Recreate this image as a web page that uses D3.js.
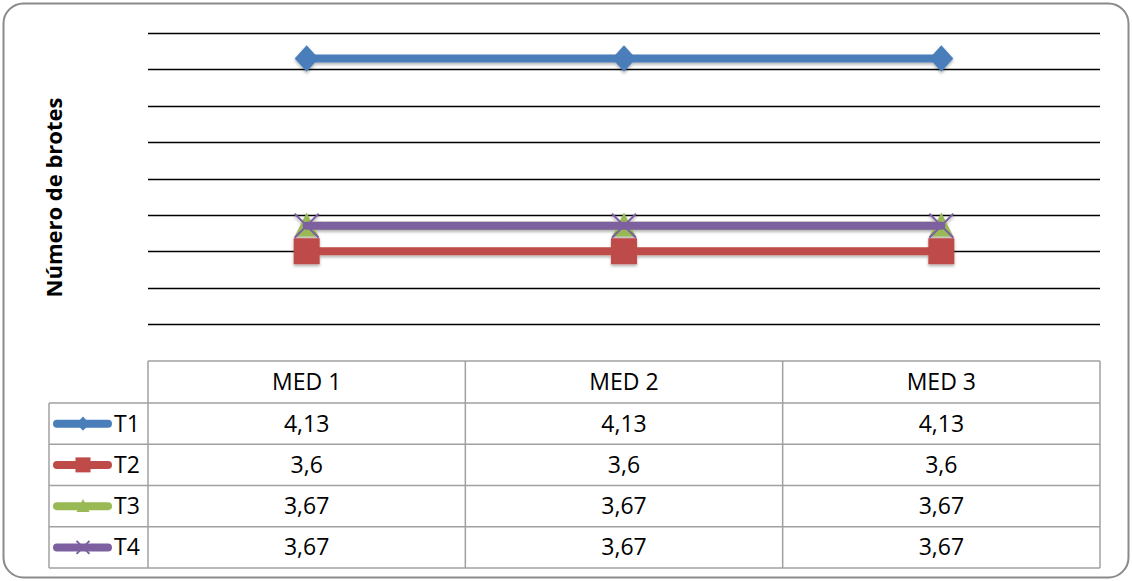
<!DOCTYPE html>
<html>
<head>
<meta charset="utf-8">
<script src="https://cdn.jsdelivr.net/npm/d3@7"></script>
<style>
  html, body { margin: 0; padding: 0; background: #fff; }
  svg { display: block; }
</style>
</head>
<body>
<svg id="chart" width="1132" height="581"></svg>
<script>
// Sample points (columns of the data table)
const categories = ["MED 1", "MED 2", "MED 3"];

// Series names and values per category
const seriesNames = ["T1", "T2", "T3", "T4"];
const t1Values = [4.13, 4.13, 4.13];
const t2Values = [3.6, 3.6, 3.6];
const t3Values = [3.67, 3.67, 3.67];
const t4Values = [3.67, 3.67, 3.67];

// Value axis gridlines (axis labels are hidden)
const gridTicks = [3.4, 3.5, 3.6, 3.7, 3.8, 3.9, 4.0, 4.1, 4.2];

const yTitle = "Número de brotes";

const seriesColors = ["#4a7ebb", "#be4b48", "#98b954", "#7d60a0"];
const seriesMarkers = ["diamond", "square", "triangle", "cross"];

const series = seriesNames.map((name, i) => ({
  name,
  values: [t1Values, t2Values, t3Values, t4Values][i],
  color: seriesColors[i],
  marker: seriesMarkers[i]
}));

const svg = d3.select("#chart");
const W = 1132, H = 581;

const plot = { left: 148, right: 1100, top: 33, bottom: 324 };
const table = { left: 148, right: 1100, legendLeft: 49, top: 361, headerBottom: 403, bottom: 568 };

const x = d3.scaleBand().domain(categories).range([plot.left, plot.right]);
const y = d3.scaleLinear().domain([3.4, 4.2]).range([plot.bottom, plot.top]);

const defs = svg.append("defs");
const shadow = defs.append("filter").attr("id", "shadow")
  .attr("x", "-20%").attr("y", "-20%").attr("width", "140%").attr("height", "160%");
shadow.append("feDropShadow")
  .attr("dx", 0).attr("dy", 2).attr("stdDeviation", 1.6)
  .attr("flood-color", "#000").attr("flood-opacity", 0.3);

// Outer chart frame
svg.append("rect")
  .attr("x", 3.5).attr("y", 3.5)
  .attr("width", W - 7).attr("height", H - 7)
  .attr("rx", 20).attr("ry", 20)
  .attr("fill", "#fff").attr("stroke", "#8a8a8a").attr("stroke-width", 2);

// Horizontal gridlines
svg.append("g").selectAll("line").data(gridTicks).join("line")
  .attr("x1", plot.left).attr("x2", plot.right)
  .attr("y1", d => Math.round(y(d)) + 0.5).attr("y2", d => Math.round(y(d)) + 0.5)
  .attr("stroke", "#000").attr("stroke-width", 1.6);

// Y axis title
svg.append("text")
  .attr("transform", `translate(62,${(plot.top + plot.bottom) / 2 + 19}) rotate(-90)`)
  .attr("text-anchor", "middle")
  .attr("font-family", "'Open Sans', sans-serif")
  .attr("font-weight", "bold")
  .attr("font-size", 22)
  .attr("fill", "#000")
  .text(yTitle);

// Marker drawing helper
function drawMarker(g, type, cx, cy, s, color) {
  if (type === "diamond") {
    g.append("path")
      .attr("d", `M${cx},${cy - s * 0.55} L${cx + s * 0.5},${cy} L${cx},${cy + s * 0.55} L${cx - s * 0.5},${cy} Z`)
      .attr("fill", color);
  } else if (type === "square") {
    g.append("rect")
      .attr("x", cx - s / 2).attr("y", cy - s / 2)
      .attr("width", s).attr("height", s)
      .attr("fill", color);
  } else if (type === "triangle") {
    g.append("path")
      .attr("d", `M${cx},${cy - s * 0.55} L${cx + s * 0.5},${cy + s * 0.45} L${cx - s * 0.5},${cy + s * 0.45} Z`)
      .attr("fill", color);
  } else if (type === "cross") {
    g.append("path")
      .attr("d", `M${cx - s / 2},${cy - s / 2} L${cx + s / 2},${cy + s / 2} M${cx + s / 2},${cy - s / 2} L${cx - s / 2},${cy + s / 2}`)
      .attr("stroke", color).attr("stroke-width", 2).attr("fill", "none");
  }
}

const line = d3.line()
  .x((d, i) => x(categories[i]) + x.bandwidth() / 2)
  .y(d => y(d));

// Series lines and markers
const seriesG = svg.append("g").attr("filter", "url(#shadow)");
const markerSize = { diamond: 24, square: 26, triangle: 24, cross: 24 };
series.forEach(s => {
  const g = seriesG.append("g");
  g.append("path")
    .attr("d", line(s.values))
    .attr("fill", "none")
    .attr("stroke", s.color)
    .attr("stroke-width", 8)
    .attr("stroke-linecap", "round");
  s.values.forEach((v, i) => {
    drawMarker(g, s.marker, x(categories[i]) + x.bandwidth() / 2, y(v), markerSize[s.marker], s.color);
  });
});

// Data table
const tableG = svg.append("g");
const rowH = (table.bottom - table.headerBottom) / series.length;
const gridColor = "#a0a0a0";
const fontFamily = "'Open Sans', sans-serif";
const tableFont = 23;

// Header row
tableG.append("line")
  .attr("x1", table.left).attr("x2", table.right)
  .attr("y1", table.top).attr("y2", table.top)
  .attr("stroke", gridColor).attr("stroke-width", 1.5);
// Horizontal row separators
const rowLines = d3.range(series.length + 1).map(i => table.headerBottom + i * rowH);
tableG.selectAll("line.row").data(rowLines).join("line")
  .attr("class", "row")
  .attr("x1", table.legendLeft).attr("x2", table.right)
  .attr("y1", d => d).attr("y2", d => d)
  .attr("stroke", gridColor).attr("stroke-width", 1.5);
// Column separators
const colEdges = [plot.left].concat(categories.map(c => x(c) + x.bandwidth()));
tableG.selectAll("line.col").data(colEdges).join("line")
  .attr("class", "col")
  .attr("x1", d => d).attr("x2", d => d)
  .attr("y1", table.top).attr("y2", table.bottom)
  .attr("stroke", gridColor).attr("stroke-width", 1.5);
tableG.append("line")
  .attr("x1", table.legendLeft).attr("x2", table.legendLeft)
  .attr("y1", table.headerBottom).attr("y2", table.bottom)
  .attr("stroke", gridColor).attr("stroke-width", 1.5);

// Header labels
tableG.selectAll("text.head").data(categories).join("text")
  .attr("class", "head")
  .attr("x", d => x(d) + x.bandwidth() / 2)
  .attr("y", (table.top + table.headerBottom) / 2)
  .attr("dy", "0.35em")
  .attr("text-anchor", "middle")
  .attr("font-family", fontFamily).attr("font-size", tableFont).attr("fill", "#000")
  .text(d => d);

const fmt = v => String(v).replace(".", ",");

series.forEach((s, r) => {
  const cy = table.headerBottom + r * rowH + rowH / 2;
  // Legend key
  const key = tableG.append("g");
  key.append("line")
    .attr("x1", 57).attr("x2", 108)
    .attr("y1", cy).attr("y2", cy)
    .attr("stroke", s.color).attr("stroke-width", 8).attr("stroke-linecap", "round");
  drawMarker(key, s.marker, 83, cy, s.marker === "square" ? 15 : 13, s.color);
  tableG.append("text")
    .attr("x", 114).attr("y", cy).attr("dy", "0.35em")
    .attr("font-family", fontFamily).attr("font-size", tableFont).attr("fill", "#000")
    .text(s.name);
  // Values
  tableG.selectAll(null).data(s.values).join("text")
    .attr("x", (d, i) => x(categories[i]) + x.bandwidth() / 2)
    .attr("y", cy).attr("dy", "0.35em")
    .attr("text-anchor", "middle")
    .attr("font-family", fontFamily).attr("font-size", tableFont).attr("fill", "#000")
    .text(d => fmt(d));
});
</script>
</body>
</html>
